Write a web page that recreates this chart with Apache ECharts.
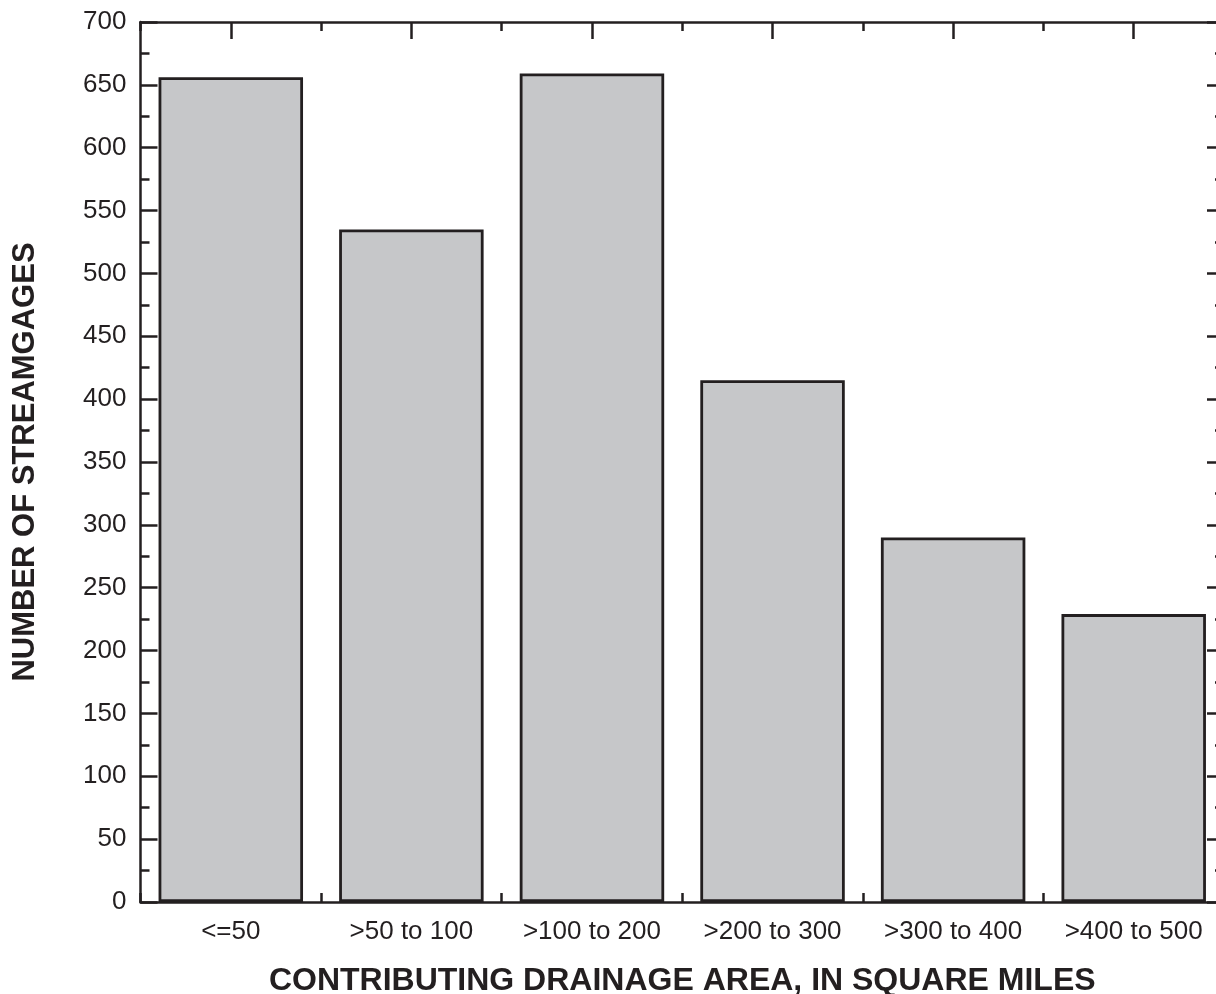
<!DOCTYPE html>
<html>
<head>
<meta charset="utf-8">
<script src="https://cdn.jsdelivr.net/npm/echarts@6/dist/echarts.min.js"></script>
<style>
html,body{margin:0;padding:0;background:#fff;}
#chart{width:1216px;height:994px;}
</style>
</head>
<body>
<div id="chart"></div>
<script>
var categories = ['<=50', '>50 to 100', '>100 to 200', '>200 to 300', '>300 to 400', '>400 to 500'];
var counts = [656, 535, 659, 415, 290, 229];
var yMin = 0, yMax = 700, yStep = 50;
var xTitle = 'CONTRIBUTING DRAINAGE AREA, IN SQUARE MILES';
var yTitle = 'NUMBER OF STREAMGAGES';

var ink = '#231f20';
var font = 'Liberation Sans, Arial, Helvetica, sans-serif';

function catAxis(pos, major, showLabel, showLine) {
  return {
    type: 'category', data: categories, position: pos, boundaryGap: true,
    axisLine: { show: showLine, lineStyle: { color: ink, width: 2.5 } },
    axisTick: { show: true, interval: 0, inside: true, alignWithLabel: major, length: major ? 17 : 9, lineStyle: { color: ink, width: 2.5 } },
    axisLabel: { show: showLabel, interval: 0, color: ink, fontFamily: font, fontSize: 26, margin: 17 },
    splitLine: { show: false }
  };
}
function valAxis(pos, showLabel) {
  return {
    type: 'value', min: yMin, max: yMax, interval: yStep, position: pos,
    axisLine: { show: true, lineStyle: { color: ink, width: 2.5 } },
    axisTick: { show: true, inside: true, length: 17, lineStyle: { color: ink, width: 2.5 } },
    minorTick: { show: true, splitNumber: 2, length: 9, lineStyle: { color: ink, width: 2.5 } },
    axisLabel: { show: showLabel, color: ink, fontFamily: font, fontSize: 26, margin: 14 },
    splitLine: { show: false }
  };
}

var xMain = catAxis('bottom', true, true, true);
xMain.name = xTitle;
xMain.nameLocation = 'middle';
xMain.nameGap = 63;
xMain.nameTextStyle = { color: ink, fontFamily: font, fontSize: 32, fontWeight: 'bold' };

var yMain = valAxis('left', true);
yMain.name = yTitle;
yMain.nameLocation = 'middle';
yMain.nameGap = 100;
yMain.nameTextStyle = { color: ink, fontFamily: font, fontSize: 31, fontWeight: 'bold' };

var chart = echarts.init(document.getElementById('chart'), null, { renderer: 'canvas' });
chart.setOption({
  animation: false,
  backgroundColor: '#ffffff',
  grid: { left: 140.5, right: -8, top: 22, bottom: 92, containLabel: false, outerBoundsMode: 'none' },
  xAxis: [
    xMain,
    catAxis('bottom', false, false, false),
    catAxis('top', true, false, true),
    catAxis('top', false, false, false)
  ],
  yAxis: [
    yMain,
    valAxis('right', false)
  ],
  series: [{
    type: 'bar',
    data: counts,
    xAxisIndex: 0,
    yAxisIndex: 0,
    barCategoryGap: '20%',
    itemStyle: { color: '#c6c7c9', borderColor: ink, borderWidth: 2.8 }
  }]
});
</script>
</body>
</html>
